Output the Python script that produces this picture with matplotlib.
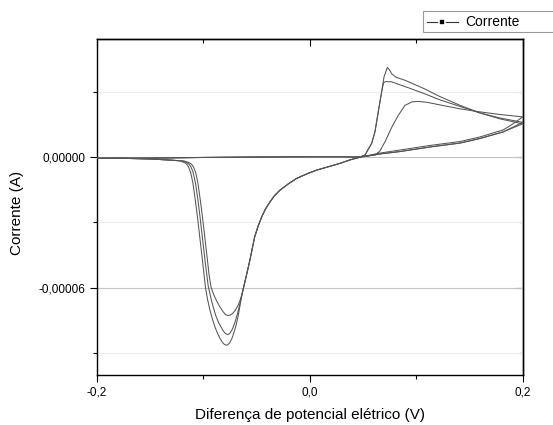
import numpy as np
import matplotlib
matplotlib.use("Agg")
import matplotlib.pyplot as plt
from matplotlib.lines import Line2D
from matplotlib.patches import Rectangle
from matplotlib.ticker import FixedLocator, FuncFormatter

# Cyclic voltammogram, three cycles. Potentials in V, currents in microamperes.
pot_base = [-0.200, -0.150, -0.100, -0.050, 0.000, 0.030, 0.043]
cur_base = [-0.6, -0.5, -0.2, 0.0, 0.1, 0.1, 0.0]

# anodic (forward) sweeps
pot_ox1 = [0.0548, 0.0613, 0.0660, 0.0707, 0.0770, 0.0829, 0.0895, 0.0961, 0.1017,
           0.1101, 0.1224, 0.1412, 0.1599, 0.1787, 0.2000]
cur_ox1 = [0.5, 0.9, 2.8, 7.0, 13.6, 18.9, 23.7, 25.3, 25.5,
           25.1, 23.9, 22.1, 20.7, 19.5, 18.4]

pot_ox2 = [0.0472, 0.0519, 0.0582, 0.0613, 0.0644, 0.0676, 0.0693, 0.0712, 0.0770,
           0.0848, 0.0942, 0.1064, 0.1224, 0.1412, 0.1599, 0.1787, 0.2000]
cur_ox2 = [0.0, 0.9, 6.3, 11.6, 20.8, 30.0, 34.0, 34.6, 34.5,
           33.1, 31.5, 29.3, 26.2, 23.2, 20.2, 17.5, 15.2]

pot_ox3 = [0.0472, 0.0519, 0.0582, 0.0613, 0.0644, 0.0676, 0.0698, 0.0729, 0.0749,
           0.0770, 0.0810, 0.0895, 0.1064, 0.1224, 0.1412, 0.1599, 0.1787, 0.2000]
cur_ox3 = [0.0, 0.9, 6.3, 11.6, 20.8, 30.0, 36.8, 41.1, 40.0,
           38.2, 36.6, 35.2, 31.6, 27.7, 23.7, 20.2, 17.9, 15.9]

# return (cathodic) sweeps, positive-current part
pot_ret1 = [0.1881, 0.1815, 0.1599, 0.1412, 0.1130, 0.0848, 0.0660, 0.0472]
cur_ret1 = [14.3, 12.4, 9.2, 7.1, 5.3, 3.2, 1.8, 0.0]
pot_ret23 = [0.1815, 0.1599, 0.1412, 0.1130, 0.0848, 0.0660, 0.0472]
cur_ret23 = [11.5, 8.5, 6.4, 4.6, 2.5, 1.4, -0.1]

# shared descent towards the reduction peak
pot_cath = [0.0380, 0.0285, 0.0180, 0.0066, -0.0030, -0.0122, -0.0200, -0.0279, -0.0330,
            -0.0373, -0.0415, -0.0451, -0.0485, -0.0517, -0.0562, -0.0592, -0.0622]
cur_cath = [-1.3, -2.9, -4.4, -6.0, -7.8, -9.8, -12.3, -15.2, -17.7,
            -20.6, -23.8, -27.5, -31.8, -36.7, -47.4, -53.8, -60.1]

# reduction peaks and tail back to -0.2 V
pot_red1 = [-0.0640, -0.0654, -0.0675, -0.0700, -0.0725, -0.0750, -0.0770, -0.0792, -0.0814,
            -0.0840, -0.0870, -0.0900, -0.0926, -0.0945, -0.0960, -0.1007, -0.1028, -0.1049,
            -0.1070, -0.1091, -0.1110, -0.1129, -0.1155, -0.1180, -0.1312, -0.1500, -0.1753,
            -0.2000]
cur_red1 = [-63.5, -65.8, -68.3, -70.4, -71.8, -72.6, -72.7, -72.2, -70.9,
            -69.0, -66.4, -63.3, -59.8, -54.0, -47.4, -27.5, -19.5, -12.1,
            -7.2, -4.5, -3.3, -2.7, -2.2, -1.8, -1.4, -0.9, -0.6,
            -0.6]

pot_red2 = [-0.0640, -0.0654, -0.0675, -0.0700, -0.0725, -0.0750, -0.0770, -0.0790, -0.0810,
            -0.0830, -0.0855, -0.0880, -0.0902, -0.0922, -0.0940, -0.0952, -0.0983, -0.1030,
            -0.1050, -0.1072, -0.1095, -0.1115, -0.1135, -0.1160, -0.1199, -0.1312, -0.1500,
            -0.1753, -0.2000]
cur_red2 = [-64.0, -67.1, -71.2, -75.6, -78.9, -80.9, -81.5, -81.0, -79.9,
            -78.2, -76.0, -73.0, -69.5, -65.8, -62.0, -59.5, -47.4, -27.5,
            -19.5, -12.1, -7.0, -4.5, -3.2, -2.4, -1.8, -1.4, -0.9,
            -0.6, -0.6]

pot_red3 = [-0.0640, -0.0654, -0.0672, -0.0692, -0.0712, -0.0730, -0.0752, -0.0777, -0.0800,
            -0.0820, -0.0840, -0.0865, -0.0889, -0.0912, -0.0936, -0.0958, -0.0978, -0.1007,
            -0.1054, -0.1075, -0.1096, -0.1117, -0.1138, -0.1155, -0.1171, -0.1195, -0.1218,
            -0.1312, -0.1500, -0.1753, -0.2000]
cur_red3 = [-64.2, -68.1, -73.0, -77.3, -80.6, -83.2, -85.3, -86.4, -86.0,
            -85.0, -83.4, -81.0, -78.0, -74.6, -70.4, -65.6, -60.1, -47.4,
            -27.5, -19.5, -12.1, -7.2, -4.5, -3.3, -2.7, -2.2, -1.8,
            -1.4, -0.9, -0.6, -0.6]

cycles = [
    (pot_ox1, cur_ox1, pot_ret1, cur_ret1, pot_red1, cur_red1),
    (pot_ox2, cur_ox2, pot_ret23, cur_ret23, pot_red2, cur_red2),
    (pot_ox3, cur_ox3, pot_ret23, cur_ret23, pot_red3, cur_red3),
]

x_major = [-0.2, 0.0, 0.2]
x_minor = [-0.1, 0.1]
y_major = [-6e-5, 0.0]
y_minor = [-9e-5, -3e-5, 3e-5]

plt.rcParams['font.family'] = ['Liberation Sans', 'DejaVu Sans']

W, H = 553, 425
fig = plt.figure(figsize=(W / 100, H / 100), dpi=100)
ax = fig.add_axes([96.7 / W, 1 - 375 / H, (522.7 - 96.7) / W, (375 - 39.3) / H])

line_color = '#555555'
for pox, cox, pret, cret, pred, cred in cycles:
    pot = np.concatenate([pot_base, pox, pret, pot_cath, pred])
    cur = np.concatenate([cur_base, cox, cret, cur_cath, cred]) * 1e-6
    ax.plot(pot, cur, color=line_color, lw=0.75, zorder=3)

ax.set_xlim(-0.2, 0.2)
ax.set_ylim(-1.0e-4, 5.4e-5)

# grid: major lines darker than the minor ones
for y in y_major:
    ax.axhline(y, color='#c4c4c4', lw=0.8, zorder=1)
for y in y_minor:
    ax.axhline(y, color='#ededed', lw=0.8, zorder=1)

ax.xaxis.set_major_locator(FixedLocator(x_major))
ax.xaxis.set_minor_locator(FixedLocator(x_minor))
ax.yaxis.set_major_locator(FixedLocator(y_major))
ax.yaxis.set_minor_locator(FixedLocator(y_minor))
ax.xaxis.set_major_formatter(FuncFormatter(lambda v, p: ('%.1f' % v).replace('.', ',')))
ax.yaxis.set_major_formatter(FuncFormatter(
    lambda v, p: ('%.5f' % v).replace('.', ',') if abs(v) > 1e-12 else '0,00000'))

ax.tick_params(which='major', direction='out', length=5, width=0.8, labelsize=8.5, pad=3)
ax.tick_params(which='minor', direction='out', length=3, width=0.8)

# mirrored inward ticks on top and right
top = ax.secondary_xaxis('top')
top.xaxis.set_major_locator(FixedLocator(x_major))
top.xaxis.set_minor_locator(FixedLocator(x_minor))
top.tick_params(which='major', direction='in', length=5, width=0.8, labeltop=False)
top.tick_params(which='minor', direction='in', length=3, width=0.8)
right = ax.secondary_yaxis('right')
right.yaxis.set_major_locator(FixedLocator(y_major))
right.yaxis.set_minor_locator(FixedLocator(y_minor))
right.tick_params(which='major', direction='in', length=5, width=0.8, labelright=False)
right.tick_params(which='minor', direction='in', length=3, width=0.8)
for s in list(ax.spines.values()) + [top.spines['top'], right.spines['right']]:
    s.set_linewidth(1.0)

ax.set_xlabel('Diferença de potencial elétrico (V)', fontsize=11, labelpad=7)
ax.set_ylabel('Corrente (A)', fontsize=11)
ax.yaxis.set_label_coords((17 - 96.7) / 426, (375 - 213) / (375 - 39.3))
ax.yaxis.label.set_va('center')

# legend box running off the right edge of the figure
fig.add_artist(Rectangle((423 / W, 1 - 32 / H), (570 - 423) / W, 21 / H,
                         transform=fig.transFigure, facecolor='white',
                         edgecolor='#999999', lw=0.8))
fig.add_artist(Line2D([427 / W, 458 / W], [1 - 21.8 / H] * 2, transform=fig.transFigure,
                      color='#333333', lw=0.8))
fig.add_artist(Line2D([442 / W], [1 - 21.8 / H], transform=fig.transFigure,
                      marker='s', markersize=4, markerfacecolor='black',
                      markeredgecolor='white', markeredgewidth=1.2, linestyle='none'))
fig.text(465 / W, 1 - 22 / H, 'Corrente', fontsize=10, va='center', ha='left')

fig.savefig('out.png', dpi=100)
